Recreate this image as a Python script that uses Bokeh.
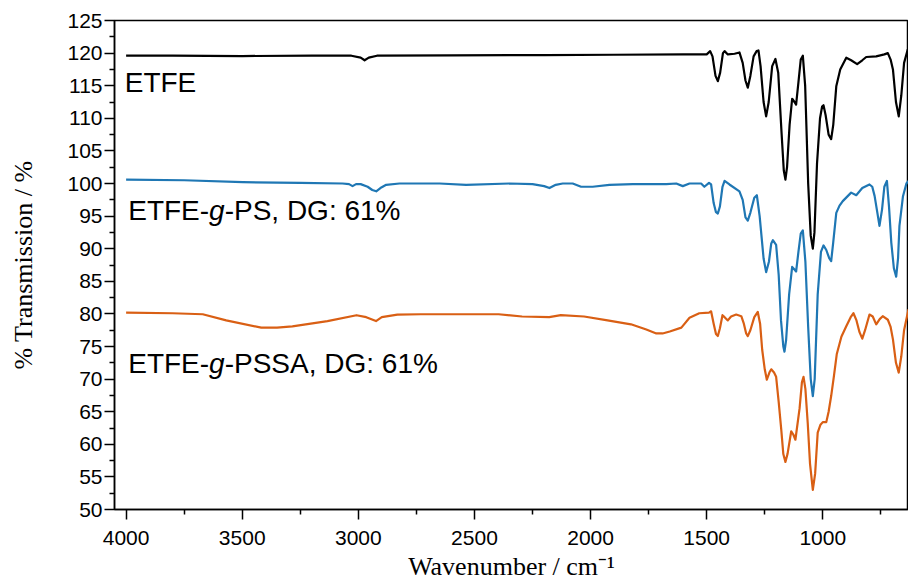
from bokeh.plotting import figure
from bokeh.models import Range1d, FixedTicker, Label
from bokeh.embed import file_html
from bokeh.resources import INLINE

# ---------------- data ----------------
etfe_wn = [4000, 3800, 3500, 3200, 3030, 2990, 2973, 2955, 2920, 2600, 2200, 1900, 1600, 1500,
           1485, 1475, 1462, 1452, 1442, 1430, 1423, 1409, 1380, 1359, 1345, 1333, 1323, 1312,
           1298, 1285, 1277, 1268, 1255, 1244, 1233, 1218, 1204, 1192, 1178, 1168, 1161, 1154,
           1143, 1132, 1122, 1115, 1105, 1095, 1086, 1076, 1063, 1052, 1043, 1036, 1025, 1012,
           1003, 997, 988, 975, 964, 955, 942, 925, 899, 878, 852, 830, 813, 770, 735, 720,
           708, 698, 685, 673, 662, 650, 634]
etfe_t = [119.6, 119.6, 119.55, 119.6, 119.6, 119.3, 118.9, 119.3, 119.6, 119.65, 119.7, 119.75, 119.8, 119.8,
          120.3, 119.5, 116.5, 115.7, 117.0, 120.0, 120.3, 119.8, 119.9, 120.1, 118.5, 115.8, 114.7, 116.5,
          119.5, 120.3, 120.4, 118.0, 112.5, 110.3, 112.5, 118.0, 119.1, 117.0, 108.0, 102.0, 100.6, 102.5,
          109.0, 113.0, 112.5, 112.1, 115.5, 119.0, 119.6, 115.0, 100.0, 92.0, 90.0, 92.5, 103.0, 110.0,
          111.8, 112.0, 110.5, 107.5, 106.8, 109.0, 114.9, 117.5, 119.3, 118.9, 118.3, 118.9, 119.4, 119.5, 119.8, 120.0,
          119.0, 117.5, 112.5, 110.3, 113.5, 118.5, 120.6]

ps_wn = [4000, 3750, 3498, 3250, 3068, 3040, 3025, 3010, 2990, 2960, 2940, 2923, 2905, 2880, 2823,
         2650, 2536, 2349, 2250, 2200, 2177, 2150, 2120, 2077, 2041, 1991, 1919, 1818, 1674, 1631,
         1603, 1574, 1524, 1510, 1490, 1481, 1470, 1460, 1452, 1443, 1432, 1423, 1402, 1359, 1345,
         1333, 1323, 1312, 1295, 1284, 1272, 1255, 1244, 1232, 1222, 1215, 1201, 1190, 1180, 1170,
         1165, 1158, 1145, 1132, 1122, 1115, 1105, 1095, 1086, 1075, 1063, 1052, 1043, 1035, 1022,
         1008, 997, 985, 972, 964, 955, 942, 928, 914, 878, 856, 830, 799, 787, 777, 765, 756, 745,
         735, 724, 715, 705, 694, 684, 676, 670, 655, 640, 631]
ps_t = [100.6, 100.5, 100.2, 100.1, 100.0, 99.9, 99.6, 99.9, 99.9, 99.5, 99.0, 98.8, 99.3, 99.8, 100.0,
        100.0, 99.8, 100.0, 99.9, 99.6, 99.3, 99.8, 100.0, 100.0, 99.5, 99.5, 99.8, 99.9, 99.9, 100.0,
        99.6, 100.0, 100.0, 99.5, 100.1, 99.85, 97.0, 95.6, 95.4, 96.5, 99.5, 100.4, 99.85, 98.8, 97.5,
        94.8, 94.3, 95.5, 97.8, 98.2, 95.0, 88.5, 86.4, 88.0, 90.8, 91.3, 90.6, 86.0, 79.0, 75.0,
        74.2, 76.0, 83.0, 87.2, 86.8, 86.5, 89.5, 92.3, 92.8, 88.0, 78.0, 70.0, 67.4, 70.0, 83.0,
        89.5, 90.5, 89.8, 88.5, 88.1, 91.0, 95.5, 96.6, 97.3, 98.6, 98.2, 99.3, 99.85, 99.5, 98.1, 95.5, 93.5, 96.0,
        99.5, 100.4, 96.5, 90.9, 87.0, 85.7, 88.5, 93.5, 98.0, 100.0, 100.4]

pssa_wn = [4000, 3800, 3670, 3569, 3418, 3350, 3284, 3133, 3008, 2966, 2924, 2899, 2832, 2731, 2564,
           2396, 2295, 2178, 2128, 2028, 1927, 1826, 1760, 1717, 1690, 1659, 1609, 1574, 1532, 1490,
           1481, 1470, 1460, 1452, 1443, 1432, 1423, 1409, 1395, 1373, 1351, 1340, 1330, 1323, 1312,
           1295, 1280, 1270, 1261, 1250, 1241, 1230, 1222, 1210, 1201, 1190, 1179, 1170, 1161, 1152,
           1136, 1127, 1118, 1100, 1090, 1083, 1075, 1065, 1055, 1043, 1033, 1022, 1010, 1000, 985,
           975, 964, 952, 940, 920, 899, 880, 868, 855, 842, 830, 818, 799, 785, 770, 755, 742, 720,
           708, 698, 685, 673, 662, 650, 631]
pssa_t = [80.2, 80.1, 79.95, 79.0, 77.9, 77.9, 78.1, 78.9, 79.8, 79.5, 78.9, 79.5, 79.9, 79.95, 79.95,
          79.95, 79.6, 79.5, 79.8, 79.6, 79.0, 78.4, 77.6, 77.0, 77.0, 77.3, 77.9, 79.4, 80.1, 80.2,
          80.4, 78.5, 76.9, 76.6, 77.8, 79.8, 79.5, 79.0, 79.6, 79.9, 79.65, 78.5, 77.0, 76.6, 77.5,
          79.5, 80.3, 78.5, 74.5, 71.5, 69.9, 71.0, 71.5, 71.0, 70.35, 66.5, 62.3, 58.5, 57.3, 58.5,
          62.0, 61.5, 60.7, 65.5, 69.5, 70.35, 68.5, 63.3, 57.0, 53.0, 55.5, 61.8, 63.0, 63.4, 63.4,
          65.0, 67.4, 70.5, 73.8, 76.5, 78.1, 79.5, 80.1, 79.0, 77.2, 76.2, 77.5, 79.9, 79.6, 78.4, 79.2, 79.65, 79.1,
          78.0, 76.1, 72.5, 71.0, 73.5, 77.5, 80.7]

x_major = [4000, 3500, 3000, 2500, 2000, 1500, 1000]
x_minor = [3750, 3250, 2750, 2250, 1750, 1250, 750]
y_major = [50, 55, 60, 65, 70, 75, 80, 85, 90, 95, 100, 105, 110, 115, 120, 125]
y_minor = [52.5, 57.5, 62.5, 67.5, 72.5, 77.5, 82.5, 87.5, 92.5, 97.5, 102.5, 107.5, 112.5, 117.5, 122.5]

# ---------------- figure ----------------
p = figure(width=908, height=586, output_backend="svg", toolbar_location=None,
           x_range=Range1d(4050, 631), y_range=Range1d(50, 125),
           min_border_left=114, min_border_right=0, min_border_top=20, min_border_bottom=77)
p.xgrid.visible = False
p.ygrid.visible = False
p.outline_line_color = "black"
p.outline_line_width = 1.5
p.background_fill_color = "white"
p.border_fill_color = "white"

sans = "Liberation Sans"
serif = "Liberation Serif"

for ax in (p.xaxis[0], p.yaxis[0]):
    ax.axis_line_color = "black"
    ax.axis_line_width = 1.5
    ax.major_tick_line_color = "black"
    ax.major_tick_line_width = 1.5
    ax.minor_tick_line_color = "black"
    ax.minor_tick_line_width = 1.5
    ax.major_tick_in = 0
    ax.major_tick_out = 10
    ax.minor_tick_in = 0
    ax.minor_tick_out = 5
    ax.major_label_text_font = sans
    ax.major_label_text_font_size = "21px"
    ax.major_label_text_color = "black"
    ax.axis_label_text_font = serif
    ax.axis_label_text_font_style = "normal"
    ax.axis_label_text_color = "black"
    ax.axis_label_text_font_size = "26px"

p.xaxis.ticker = FixedTicker(ticks=x_major, minor_ticks=x_minor)
p.yaxis.ticker = FixedTicker(ticks=y_major, minor_ticks=y_minor)
p.xaxis.major_label_standoff = 11
p.xaxis.axis_label_standoff = 4
p.yaxis.major_label_standoff = 2
p.yaxis.axis_label_standoff = 26
p.xaxis.axis_label = "Wavenumber / cm\u207b\u00b9"
p.yaxis.axis_label = "% Transmission / %"

p.line(etfe_wn, etfe_t, line_color="black", line_width=2.2, line_join="round")
p.line(ps_wn, ps_t, line_color="#1f77b4", line_width=2.2, line_join="round")
p.line(pssa_wn, pssa_t, line_color="#d95f14", line_width=2.2, line_join="round")

# ---------------- series labels ----------------
fs = 28
def add_label(x, y, parts):
    off = 0.0
    for txt, style, w_em in parts:
        p.add_layout(Label(x=x, y=y, x_offset=off, text=txt, text_font=sans,
                           text_font_size=f"{fs}px", text_font_style=style,
                           text_color="black", text_baseline="alphabetic", text_align="left"))
        off += w_em * fs

add_label(4006, 115.5, [("ETFE", "normal", 2.556)])
add_label(3991, 95.8, [("ETFE-", "normal", 2.889), ("g", "italic", 0.556),
                        ("-PS, DG: 61%", "normal", 5.0)])
add_label(3991, 72.4, [("ETFE-", "normal", 2.889), ("g", "italic", 0.556),
                        ("-PSSA, DG: 61%", "normal", 5.0)])

open("out.html", "w").write(file_html(p, INLINE))
